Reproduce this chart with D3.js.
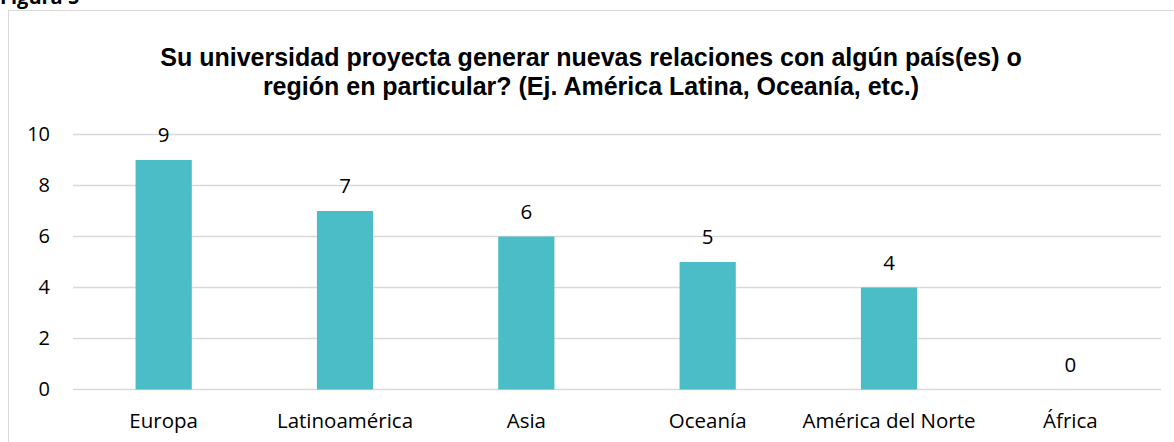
<!DOCTYPE html>
<html>
<head>
<meta charset="utf-8">
<script src="https://cdn.jsdelivr.net/npm/d3@7"></script>
<style>
  body { margin: 0; background: #fff; }
  text { font-family: "Open Sans", Lato, sans-serif; fill: #000; }
</style>
</head>
<body>
<script>
let width = 1174;
let height = 442;

let categories = ["Europa", "Latinoamérica", "Asia", "Oceanía", "América del Norte", "África"];
let values = [9, 7, 6, 5, 4, 0];
let yTicks = [0, 2, 4, 6, 8, 10];
let titleLines = [
  "Su universidad proyecta generar nuevas relaciones con algún país(es) o",
  "región en particular? (Ej. América Latina, Oceanía, etc.)"
];

let svg = d3.select("body").append("svg")
            .attr("width", width)
            .attr("height", height);

// Figure caption, cut off at the top
svg.append("text").attr("x", 0)
                  .attr("y", 4)
                  .attr("font-size", 20)
                  .attr("font-weight", "bold")
                  .text("Figura 5");

// The chart frame
svg.append("rect").attr("x", 8.5)
                  .attr("y", 10.5)
                  .attr("width", 1180)
                  .attr("height", 450)
                  .attr("fill", "none")
                  .attr("stroke", "#d9d9d9");

// The title, one text per line
svg.append("g")
   .selectAll("text")
   .data(titleLines)
   .join("text")
   .attr("x", 591)
   .attr("y", (d, i) => 66 + i * 29)
   .attr("text-anchor", "middle")
   .attr("font-size", 25)
   .attr("font-weight", "bold")
   .style("font-family", "'Liberation Sans', Arial, sans-serif")
   .text(d => d);

let x = d3.scaleBand()
          .domain(categories)
          .range([73, 1161])
          .paddingInner(0.69)
          .paddingOuter(0.345);

let y = d3.scaleLinear()
          .domain([0, 10])
          .range([389.5, 134.5]);

// Gridlines
svg.append("g")
   .selectAll("line")
   .data(yTicks)
   .join("line")
   .attr("x1", 73)
   .attr("x2", 1161)
   .attr("y1", d => y(d))
   .attr("y2", d => y(d))
   .attr("stroke", "#d9d9d9")
   .attr("stroke-width", 1.3);

// Y axis labels
let yAxis = d3.axisLeft(y).tickValues(yTicks).tickSize(0).tickPadding(0);
svg.append("g")
   .attr("transform", "translate(50,0)")
   .call(yAxis)
   .call(g => g.select(".domain").remove())
   .selectAll("text")
   .attr("font-size", 20)
   .attr("fill", "#000");

// X axis labels
let xAxis = d3.axisBottom(x).tickSize(0).tickPadding(0);
svg.append("g")
   .attr("transform", "translate(0,413.5)")
   .call(xAxis)
   .call(g => g.select(".domain").remove())
   .selectAll("text")
   .attr("font-size", 20.5)
   .attr("fill", "#000");

// The bars
let bandW = x.bandwidth();
svg.append("g")
   .selectAll("rect")
   .data(values)
   .join("rect")
   .attr("x", (d, i) => x(categories[i]))
   .attr("y", d => y(d))
   .attr("width", bandW)
   .attr("height", d => y(0) - y(d))
   .attr("fill", "#4abdc6");

// Value labels
svg.append("g")
   .selectAll("text")
   .data(values)
   .join("text")
   .attr("x", (d, i) => x(categories[i]) + bandW / 2)
   .attr("y", d => y(d) - 18)
   .attr("text-anchor", "middle")
   .attr("font-size", 20.5)
   .text(d => d);
</script>
</body>
</html>
